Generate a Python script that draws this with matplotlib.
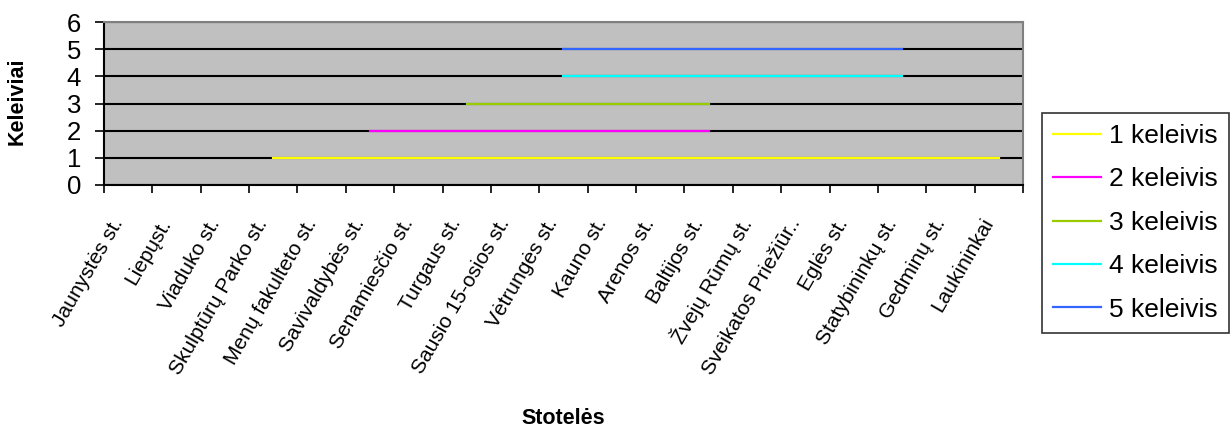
import numpy as np
import matplotlib
matplotlib.use("Agg")
from matplotlib import pyplot as plt
from matplotlib.ticker import FixedLocator

plt.rcParams['font.family'] = ['Liberation Sans', 'DejaVu Sans']

stops = ["Jaunystės st.", "Liepųst.", "Viaduko st.", "Skulptūrų Parko st.",
         "Menų fakulteto st.", "Savivaldybės st.", "Senamiesčio st.", "Turgaus st.",
         "Sausio 15-osios st.", "Vėtrungės st.", "Kauno st.", "Arenos st.",
         "Baltijos st.", "Žvejų Rūmų st.", "Sveikatos Priežiūr..", "Eglės st.",
         "Statybininkų st.", "Gedminų st.", "Laukininkai"]

nan = np.nan
keleivis1 = [nan, nan, nan, 1, 1, 1, 1, 1, 1, 1, 1, 1, 1, 1, 1, 1, 1, 1, 1]
keleivis2 = [nan, nan, nan, nan, nan, 2, 2, 2, 2, 2, 2, 2, 2, nan, nan, nan, nan, nan, nan]
keleivis3 = [nan, nan, nan, nan, nan, nan, nan, 3, 3, 3, 3, 3, 3, nan, nan, nan, nan, nan, nan]
keleivis4 = [nan, nan, nan, nan, nan, nan, nan, nan, nan, 4, 4, 4, 4, 4, 4, 4, 4, nan, nan]
keleivis5 = [nan, nan, nan, nan, nan, nan, nan, nan, nan, 5, 5, 5, 5, 5, 5, 5, 5, nan, nan]

series = [("1 keleivis", keleivis1, "#FFFF00"),
          ("2 keleivis", keleivis2, "#FF00FF"),
          ("3 keleivis", keleivis3, "#99CC00"),
          ("4 keleivis", keleivis4, "#00FFFF"),
          ("5 keleivis", keleivis5, "#3366FF")]

fig = plt.figure(figsize=(12.32, 4.30), dpi=100)
ax = fig.add_axes([104 / 1232, 1 - 185 / 430, (1023 - 104) / 1232, (185 - 22) / 430])
ax.set_facecolor("#C0C0C0")

x = np.arange(len(stops))
for name, vals, color in series:
    ax.plot(x, vals, color=color, lw=1.6, label=name, zorder=3)

ax.set_xlim(-0.5, len(stops) - 0.5)
ax.set_ylim(0, 6)
ax.set_yticks(range(7))
ax.yaxis.grid(True, color="black", lw=1.5, zorder=1)
ax.set_axisbelow(True)

# labels sit slightly left of the category centre, like in Excel
ax.set_xticks(x - 0.2)
ax.set_xticklabels(stops, rotation=60, ha="right", va="center",
                   rotation_mode="anchor", fontsize=15)
ax.tick_params(axis="x", which="major", length=0, pad=25)
ax.xaxis.set_minor_locator(FixedLocator(np.arange(-0.5, len(stops), 1.0)))
ax.tick_params(axis="x", which="minor", length=5.5, width=1.2, direction="out")
ax.tick_params(axis="y", labelsize=18.5, length=6.5, width=1.2, pad=10)

for side in ("left", "bottom"):
    ax.spines[side].set_color("black")
    ax.spines[side].set_linewidth(1.5)
for side in ("top", "right"):
    ax.spines[side].set_color("#808080")
    ax.spines[side].set_linewidth(1.5)

fig.text(17 / 1232, 1 - 101 / 430, "Keleiviai", rotation=90, ha="center", va="center",
         fontsize=15.5, fontweight="bold")
fig.text(563 / 1232, 1 - 419 / 430, "Stotelės", ha="center", va="center",
         fontsize=15.5, fontweight="bold")

leg = fig.legend(loc="upper left", bbox_to_anchor=(1042 / 1232, 1 - 113 / 430),
                 fontsize=19, frameon=True, fancybox=False, edgecolor="black",
                 handlelength=1.82, handletextpad=0.3, labelspacing=0.735,
                 borderpad=0.42, borderaxespad=0)
leg.get_frame().set_linewidth(1.2)

fig.savefig("out.png", dpi=100)
